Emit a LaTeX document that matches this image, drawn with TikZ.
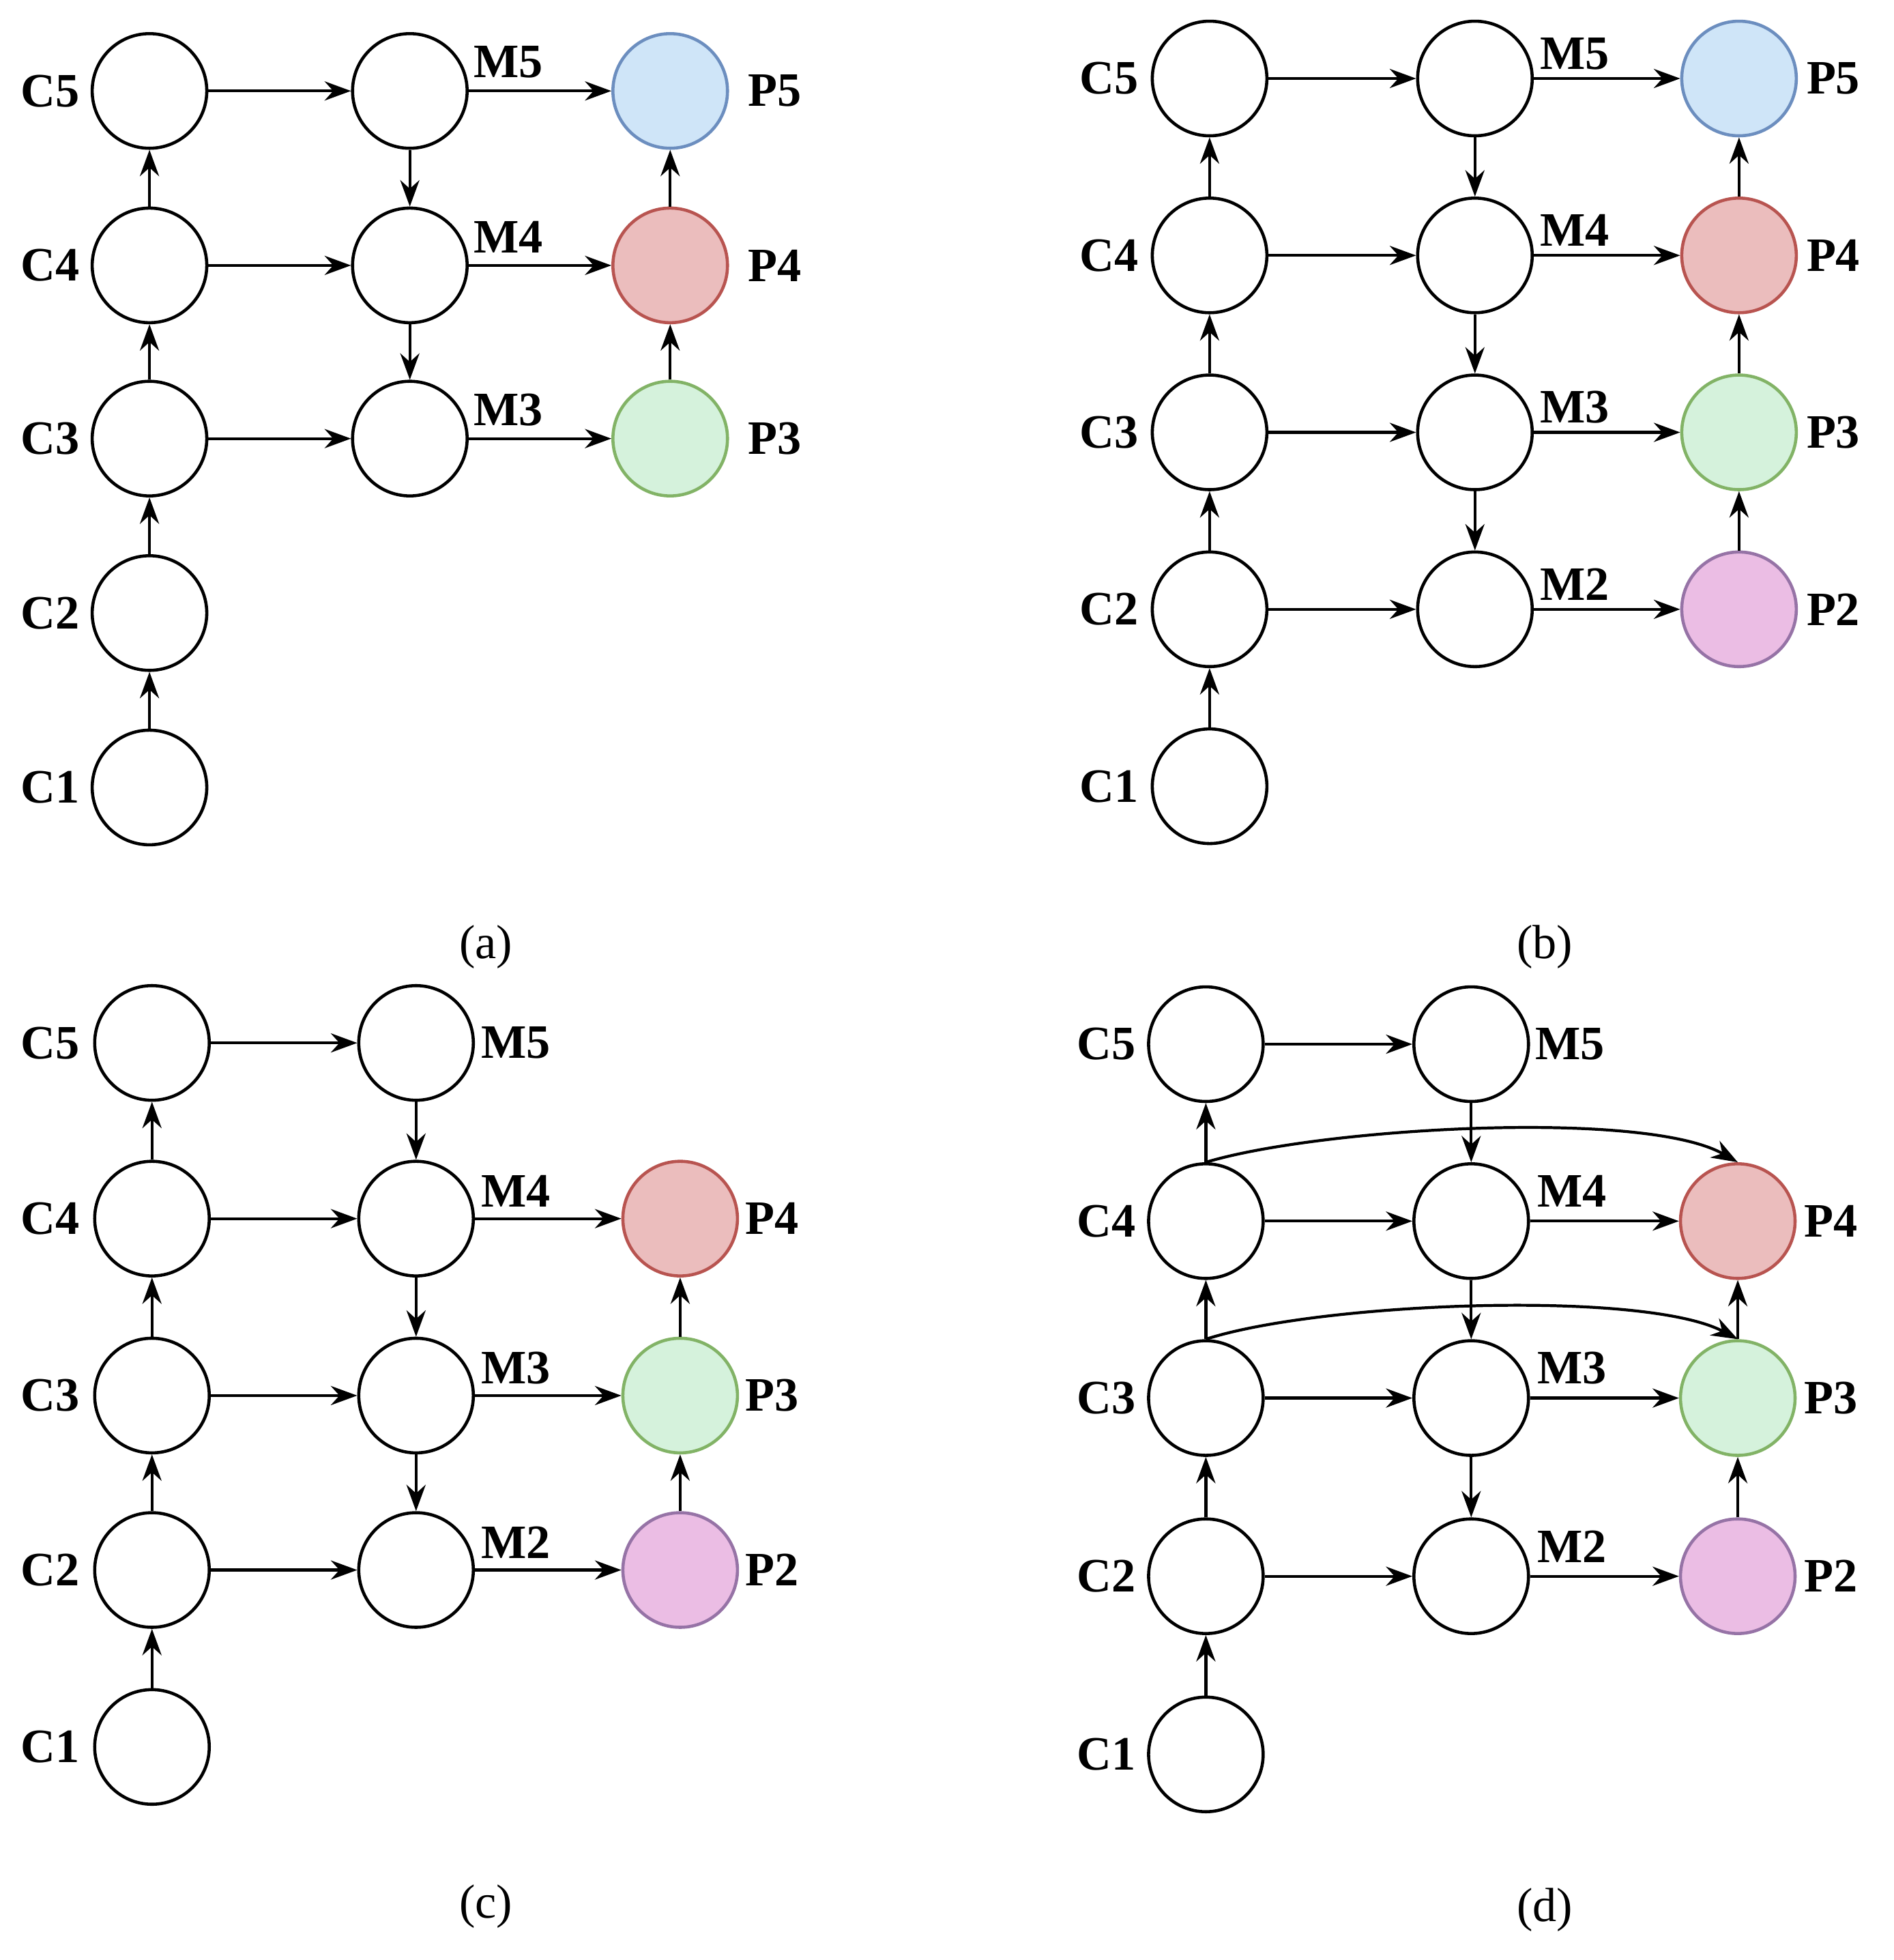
\documentclass[tikz,border=0pt]{standalone}
\usepackage{fontspec}
\setmainfont{Liberation Serif}
\usetikzlibrary{arrows.meta}
\definecolor{bF}{HTML}{CFE5F8}\definecolor{bD}{HTML}{6C8EBF}
\definecolor{rF}{HTML}{EBBDBD}\definecolor{rD}{HTML}{B85450}
\definecolor{gF}{HTML}{D5F2DC}\definecolor{gD}{HTML}{82B366}
\definecolor{pF}{HTML}{EBBDE4}\definecolor{pD}{HTML}{9673A6}
\tikzset{
 nd/.style={circle,draw=black,line width=1.3pt,minimum size=1.68cm,inner sep=0pt},
 lb/.style={font=\fontsize{20}{24}\selectfont\bfseries,inner sep=1pt},
 captxt/.style={font=\fontsize{20}{24}\selectfont},
 ar/.style={line width=1.2pt,-{Stealth[length=11pt,width=8pt]}},
 pb/.style={nd,fill=bF,draw=bD},pr/.style={nd,fill=rF,draw=rD},
 pg/.style={nd,fill=gF,draw=gD},pp/.style={nd,fill=pF,draw=pD}}
\begin{document}
\begin{tikzpicture}[x=0.01826cm,y=-0.01826cm]
\useasboundingbox (0,0) rectangle (1520,1573);
% ---------- (a)
\foreach \i/\y in {5/73,4/213,3/352,2/492,1/632}{
 \node[nd] (aC\i) at (120,\y) {}; \node[lb,anchor=east] at (66,\y) {C\i};}
\foreach \i/\y in {5/73,4/213,3/352}{
 \node[nd] (aM\i) at (329,\y) {}; \node[lb] at (408,\y-23) {M\i};}
\node[pb] (aP5) at (538,73) {}; \node[pr] (aP4) at (538,213) {}; \node[pg] (aP3) at (538,352) {};
\foreach \i/\y in {5/73,4/213,3/352}{\node[lb,anchor=west] at (598,\y) {P\i};
 \draw[ar] (aC\i) -- (aM\i); \draw[ar] (aM\i) -- (aP\i);}
\draw[ar] (aC1)--(aC2); \draw[ar] (aC2)--(aC3); \draw[ar] (aC3)--(aC4); \draw[ar] (aC4)--(aC5);
\draw[ar] (aM5)--(aM4); \draw[ar] (aM4)--(aM3);
\draw[ar] (aP3)--(aP4); \draw[ar] (aP4)--(aP5);
\node[captxt] at (390,760) {(a)};
% ---------- (b)
\foreach \i/\y in {5/63,4/205,3/347,2/489,1/631}{
 \node[nd] (bC\i) at (971,\y) {}; \node[lb,anchor=east] at (916,\y) {C\i};}
\foreach \i/\y in {5/63,4/205,3/347,2/489}{
 \node[nd] (bM\i) at (1184,\y) {}; \node[lb] at (1264,\y-20) {M\i};}
\node[pb] (bP5) at (1396,63) {}; \node[pr] (bP4) at (1396,205) {}; \node[pg] (bP3) at (1396,347) {}; \node[pp] (bP2) at (1396,489) {};
\foreach \i/\y in {5/63,4/205,3/347,2/489}{\node[lb,anchor=west] at (1448,\y) {P\i};
 \draw[ar] (bC\i) -- (bM\i); \draw[ar] (bM\i) -- (bP\i);}
\draw[ar] (bC1)--(bC2); \draw[ar] (bC2)--(bC3); \draw[ar] (bC3)--(bC4); \draw[ar] (bC4)--(bC5);
\draw[ar] (bM5)--(bM4); \draw[ar] (bM4)--(bM3); \draw[ar] (bM3)--(bM2);
\draw[ar] (bP2)--(bP3); \draw[ar] (bP3)--(bP4); \draw[ar] (bP4)--(bP5);
\node[captxt] at (1240,760) {(b)};
% ---------- (c)
\foreach \i/\y in {5/837,4/978,3/1120,2/1260,1/1402}{
 \node[nd] (cC\i) at (122,\y) {}; \node[lb,anchor=east] at (66,\y) {C\i};}
\foreach \i/\y in {5/837,4/978,3/1120,2/1260}{\node[nd] (cM\i) at (334,\y) {};}
\node[lb,anchor=west] at (384,837) {M5};
\foreach \i/\y in {4/978,3/1120,2/1260}{\node[lb] at (414,\y-22) {M\i};}
\node[pr] (cP4) at (546,978) {}; \node[pg] (cP3) at (546,1120) {}; \node[pp] (cP2) at (546,1260) {};
\foreach \i/\y in {4/978,3/1120,2/1260}{\node[lb,anchor=west] at (596,\y) {P\i};
 \draw[ar] (cM\i) -- (cP\i);}
\foreach \i in {5,4,3,2}{\draw[ar] (cC\i) -- (cM\i);}
\draw[ar] (cC1)--(cC2); \draw[ar] (cC2)--(cC3); \draw[ar] (cC3)--(cC4); \draw[ar] (cC4)--(cC5);
\draw[ar] (cM5)--(cM4); \draw[ar] (cM4)--(cM3); \draw[ar] (cM3)--(cM2);
\draw[ar] (cP2)--(cP3); \draw[ar] (cP3)--(cP4);
\node[captxt] at (390,1530) {(c)};
% ---------- (d)
\foreach \i/\y in {5/838,4/980,3/1122,2/1265,1/1408}{
 \node[nd] (dC\i) at (968,\y) {}; \node[lb,anchor=east] at (914,\y) {C\i};}
\foreach \i/\y in {5/838,4/980,3/1122,2/1265}{\node[nd] (dM\i) at (1181,\y) {};}
\node[lb,anchor=west] at (1230,838) {M5};
\foreach \i/\y in {4/980,3/1122,2/1265}{\node[lb] at (1262,\y-24) {M\i};}
\node[pr] (dP4) at (1395,980) {}; \node[pg] (dP3) at (1395,1122) {}; \node[pp] (dP2) at (1395,1265) {};
\foreach \i/\y in {4/980,3/1122,2/1265}{\node[lb,anchor=west] at (1446,\y) {P\i};
 \draw[ar] (dM\i) -- (dP\i);}
\foreach \i in {5,4,3,2}{\draw[ar] (dC\i) -- (dM\i);}
\draw[ar] (dC1)--(dC2); \draw[ar] (dC2)--(dC3); \draw[ar] (dC3)--(dC4); \draw[ar] (dC4)--(dC5);
\draw[ar] (dM5)--(dM4); \draw[ar] (dM4)--(dM3); \draw[ar] (dM3)--(dM2);
\draw[ar] (dP2)--(dP3); \draw[ar] (dP3)--(dP4);
\draw[ar] (dC4.north) .. controls (1060,905) and (1320,890) .. (dP4.north);
\draw[ar] (dC3.north) .. controls (1060,1045) and (1320,1035) .. (dP3.north);
\node[captxt] at (1240,1533) {(d)};
\end{tikzpicture}
\end{document}
